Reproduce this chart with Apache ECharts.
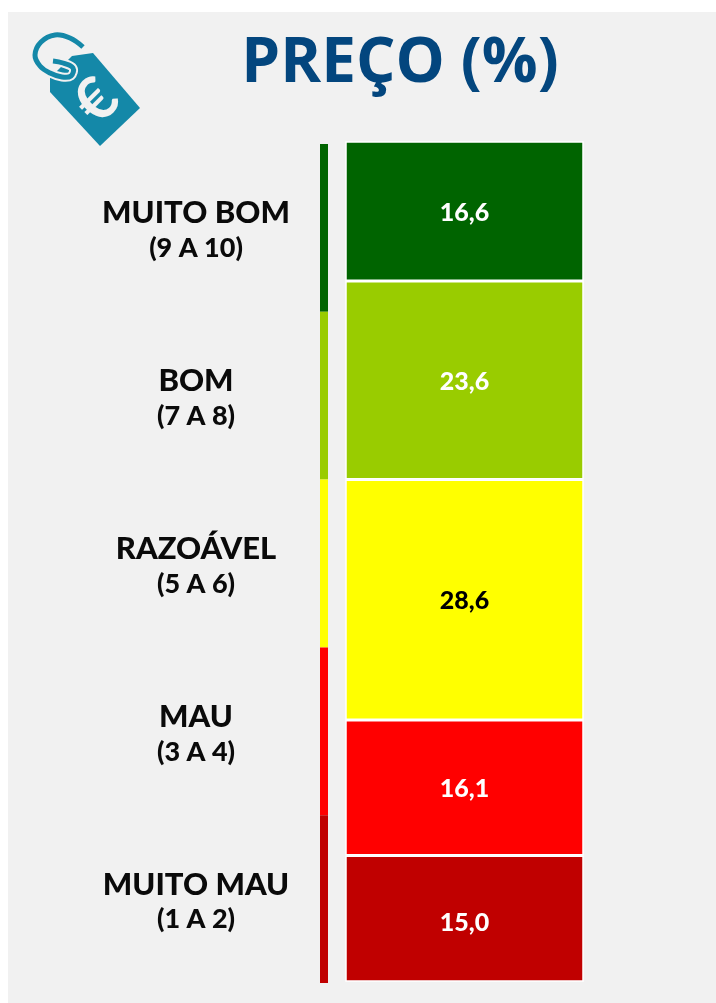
<!DOCTYPE html>
<html><head><meta charset="utf-8">
<style>html,body{margin:0;padding:0;background:#fff}#c{width:716px;height:1003px}</style>
<script src="https://cdn.jsdelivr.net/npm/echarts@6/dist/echarts.min.js"></script>
</head><body><div id="c"></div>
<script>
const titleText = 'PREÇO (%)';
const segmentNames = ['MUITO BOM','BOM','RAZOÁVEL','MAU','MUITO MAU'];
const segmentRanges = ['(9 A 10)','(7 A 8)','(5 A 6)','(3 A 4)','(1 A 2)'];
const priceShare = [16.6,23.6,28.6,16.1,15.0];
const scaleWeight = [20,20,20,20,20];
const segmentColors = ['#006400','#99CC00','#FFFF00','#FF0000','#C00000'];
const labelColors = ['#fff','#fff','#000','#fff','#fff'];
const font = 'Lato, "Liberation Sans", sans-serif';

const chart = echarts.init(document.getElementById('c'), null, {renderer:'canvas'});
const total = priceShare.reduce((a,b)=>a+b,0);
const teal = '#1488A8';
const panel = '#F1F1F1';
const ringPoints = [[83,47],[70,38],[55,35],[41,42],[35,55],[40,66],[50,73],[62,77],[71,76],[73,68],[63,63],[53,61]];

chart.setOption({
  animation:false,
  backgroundColor:'#fff',
  title:{text:titleText,left:395,top:28,textAlign:'center',
    textStyle:{fontFamily:'"Open Sans", Lato, sans-serif',fontWeight:'bold',fontSize:62,color:'#03467E'}},
  grid:[
    {left:345.25,width:238.5,top:141.25,height:840.5},
    {left:320,width:8,top:144,height:839}
  ],
  xAxis:[
    {gridIndex:0,type:'category',data:['Preço'],show:false},
    {gridIndex:1,type:'value',min:0,max:1,show:false}
  ],
  yAxis:[
    {gridIndex:0,type:'value',inverse:true,min:0,max:total,show:false},
    {gridIndex:1,type:'category',inverse:true,data:segmentNames.map((n,i)=>n+'|'+segmentRanges[i]),
      axisLine:{show:false},axisTick:{show:false},
      axisLabel:{margin:124,align:'center',padding:[6,0,0,0],
        formatter:v=>{const p=v.split('|');return '{a|'+p[0]+'}\n{b|'+p[1]+'}';},
        rich:{
          a:{fontFamily:font,fontWeight:900,fontSize:31,lineHeight:35,color:'#0a0a0a',align:'center'},
          b:{fontFamily:font,fontWeight:900,fontSize:27,lineHeight:35,color:'#0a0a0a',align:'center'}
        }}}
  ],
  series:[
    ...priceShare.map((v,i)=>({
      type:'bar',name:segmentNames[i],stack:'price',xAxisIndex:0,yAxisIndex:0,barWidth:'100%',
      data:[v],
      itemStyle:{color:segmentColors[i],borderColor:'#fff',borderWidth:1.5},
      label:{show:true,position:'inside',offset:[0,i==4?4:1.5],
        formatter:p=>p.value.toFixed(1).replace('.',','),
        fontFamily:font,fontWeight:900,fontSize:25,color:labelColors[i]}
    })),
    {type:'bar',xAxisIndex:1,yAxisIndex:1,barWidth:'100%',silent:true,
      data:scaleWeight.map((w,i)=>({value:1,itemStyle:{color:segmentColors[i]}}))}
  ],
  graphic:[
    {type:'rect',z:-10,silent:true,shape:{x:8,y:12,width:708,height:991},style:{fill:panel}},
    {type:'polygon',z:6,silent:true,shape:{points:[[93,53],[140,108],[100,146],[50,92],[50,78],[72,56]]},
      style:{fill:teal}},
    {type:'polyline',z:7,silent:true,shape:{smooth:0.4,points:ringPoints},
      style:{fill:'none',stroke:panel,lineWidth:9}},
    {type:'polyline',z:8,silent:true,shape:{smooth:0.4,points:ringPoints},
      style:{fill:'none',stroke:teal,lineWidth:5}},
    {type:'text',z:9,silent:true,x:97,y:101,rotation:Math.PI/4,
      style:{text:'€',font:'bold 60px '+font,fill:panel,textAlign:'center',textVerticalAlign:'middle'}}
  ]
});
</script></body></html>
